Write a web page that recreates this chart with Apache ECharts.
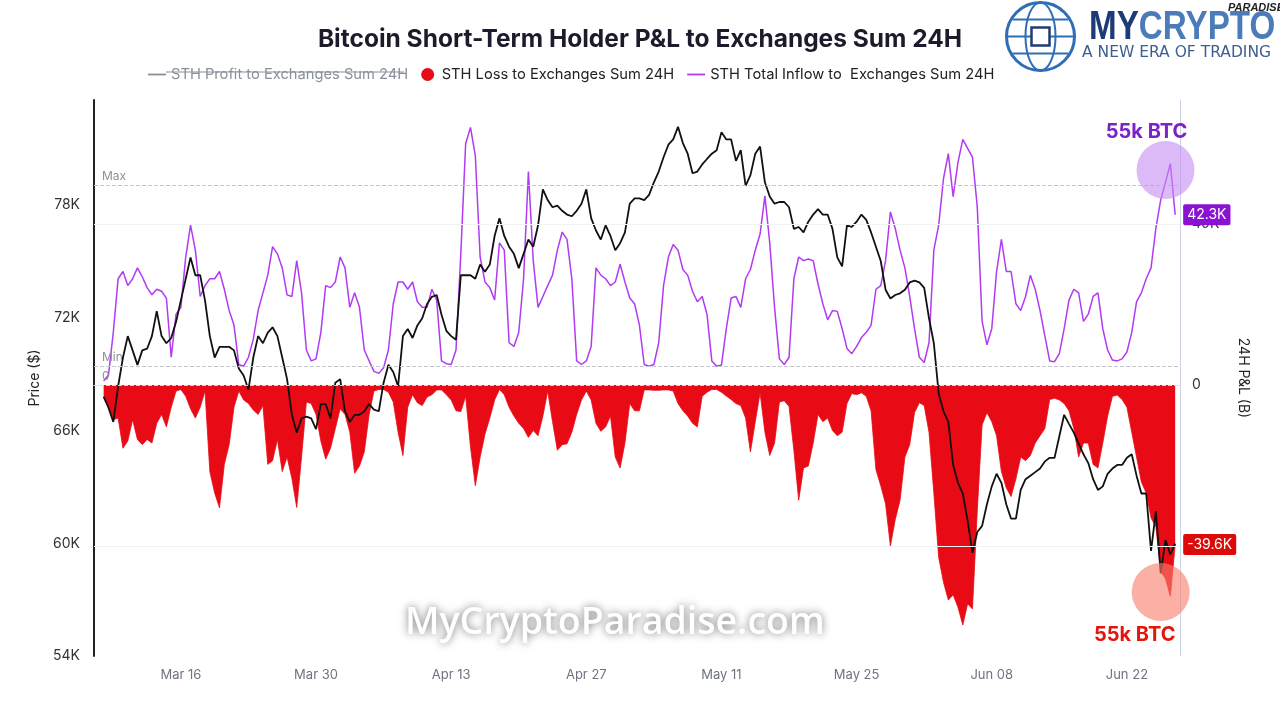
<!DOCTYPE html>
<html>
<head>
<meta charset="utf-8">
<script src="https://cdn.jsdelivr.net/npm/echarts@6/dist/echarts.min.js"></script>
<style>
  html, body { margin: 0; padding: 0; background: #fff; }
  #chart { width: 1280px; height: 720px; }
</style>
</head>
<body>
<div id="chart"></div>
<script>
// half-day samples, Mar 8 00:00 -> Jun 27 12:00 (2024)
const tickLabels = ['Mar 16', 'Mar 30', 'Apr 13', 'Apr 27', 'May 11', 'May 25', 'Jun 08', 'Jun 22'];

// BTC price, thousands of $
const price = [
  67.79, 67.22, 66.46, 68.36, 69.89, 71.03, 70.27, 69.5, 70.27, 70.36,
  71.03, 72.36, 71.03, 70.65, 70.93, 71.79, 72.93, 74.08, 75.22, 74.27,
  74.27, 72.93, 71.03, 69.89, 70.46, 70.46, 70.46, 70.27, 69.31, 68.93,
  68.17, 69.89, 71.03, 70.65, 71.22, 71.5, 71.03, 69.89, 68.74, 66.84,
  65.89, 66.65, 66.74, 66.65, 66.08, 67.41, 67.41, 66.65, 68.55, 68.74,
  67.03, 66.46, 66.84, 66.84, 67.03, 67.41,
  67.12, 67.03, 68.55, 69.5, 69.12, 68.36, 71.03, 71.41, 70.93, 71.6,
  71.98, 72.74, 73.12, 73.22, 72.17, 71.31, 71.03, 70.84, 74.27, 74.27,
  74.27, 74.08, 74.84, 74.46, 74.84, 76.36, 77.31, 76.36, 75.79, 75.41,
  74.65, 75.41, 76.17, 75.79, 76.93, 78.84, 78.27, 77.89, 77.98, 77.7,
  77.5, 77.41, 77.7, 78.08, 78.84, 77.31, 76.65, 76.17, 76.93, 76.36,
  75.6, 75.98, 76.55, 78.08, 78.36, 78.36,
  78.27, 78.55, 79.22, 79.79, 80.55, 81.22, 81.5, 82.17, 81.31, 80.74,
  79.7, 79.79, 80.17, 80.46, 80.74, 80.93, 81.89, 81.5, 81.5, 80.36,
  80.93, 79.03, 79.6, 80.74, 81.12, 79.22, 78.46, 78.08, 78.17, 78.17,
  77.89, 76.74, 76.84, 76.55, 77.12, 77.5, 77.79, 77.5, 77.5, 76.74,
  75.22, 74.74, 76.93, 76.84, 77.12, 77.5, 77.22, 76.55, 75.79, 75.03,
  73.5, 73.03, 73.22, 73.31, 73.5, 73.89,
  73.98, 73.89, 73.6, 71.98, 70.65, 67.98, 67.03, 66.46, 64.17, 63.22,
  62.65, 61.2, 59.5, 60.6, 60.93, 62.08, 63.03, 63.7, 63.22, 62.08,
  61.31, 61.31, 62.84, 63.41, 63.6, 63.79, 63.98, 64.36, 64.55, 64.55,
  65.7, 66.84, 66.36, 65.89, 65.31, 64.74, 64.27, 63.41, 62.84, 63.03,
  63.7, 63.98, 64.17, 64.17, 64.55, 64.74, 63.6, 62.65, 62.65, 59.6,
  61.7, 58.4, 60.17, 59.41, 59.98
];

// STH total inflow to exchanges, thousands of BTC
const inflow = [
  1, 2.5, 13.1, 26.4, 28.2, 24.7, 26.4, 29.1, 26.9, 24.2,
  22.4, 23.8, 23.3, 21.6, 6.9, 17.6, 19.3, 31.8, 39.7, 33.5,
  22.0, 24.7, 26.4, 26.4, 28.2, 23.8, 18.5, 14.9, 5.1, 4.7,
  6.9, 11.4, 18.5, 22.9, 27.3, 34.4, 32.6, 29.1, 22.4, 22.0,
  30.9, 22.9, 8.7, 6.0, 6.5, 13.1, 24.7, 24.2, 25.6, 31.8,
  29.1, 19.3, 22.9, 19.3, 8.7, 6.0,
  3.4, 2.9, 4.3, 8.7, 20.2, 25.6, 25.6, 23.8, 25.6, 20.7,
  19.3, 19.3, 23.8, 21.1, 6.0, 5.3, 5.1, 8.7, 32.7, 60,
  64, 57, 31.8, 25.6, 24.2, 21.1, 35.3, 33.5, 10.5, 9.6,
  13.1, 26.4, 53, 30.9, 19.3, 22.0, 24.7, 27.3, 33.5, 38.0,
  36.2, 26.4, 6.0, 5.1, 6.0, 9.6, 29.1, 27.3, 26.4, 24.7,
  25.6, 30.0, 25.6, 21.6, 20.2, 14.9,
  5.1, 4.7, 5.1, 10.5, 24.7, 31.8, 34.9, 33.5, 28.7, 27.3,
  23.3, 20.7, 22.0, 17.6, 6.0, 4.7, 5.0, 14.0, 21.6, 22.0,
  19.3, 26.4, 28.7, 33.5, 37.5, 47, 35.3, 19.3, 6.5, 5.1,
  6.9, 26.4, 31.8, 30.9, 31.3, 30.9, 25.1, 20.2, 16.2, 18.5,
  18.3, 14.0, 9.1, 7.8, 9.6, 11.8, 13.1, 14.9, 23.8, 24.7,
  30.9, 43, 38.9, 33.5, 29.1, 22.0,
  14.0, 6.9, 5.6, 10.5, 33.5, 39.7, 51.3, 57.5, 46.8, 55.3,
  61.0, 58.8, 56.6, 44.2, 15.8, 10.0, 14.0, 28.2, 36.2, 28.2,
  28.2, 20.2, 18.5, 22.0, 27.3, 23.8, 18.5, 12.2, 6.0, 5.8,
  7.8, 14.0, 21.1, 23.8, 22.9, 15.8, 17.6, 22.0, 22.9, 14.0,
  8.7, 6.2, 6.0, 6.5, 8.2, 13.1, 20.7, 22.9, 26.4, 29.1,
  38.9, 46.0, 50.4, 55, 42.3
];

// STH loss to exchanges, thousands of BTC (negative)
const loss = [
  -2.8, -5.5, -8.6, -8.2, -15.7, -13.9, -8.6, -13.5, -14.8, -13.5,
  -14.4, -9.5, -7.3, -10.4, -5.5, -1.5, -1.1, -2.8, -5.9, -8.2,
  -5.5, -1.5, -21.5, -26.8, -30.5, -19.7, -14.8, -5.5, -1.5, -3.7,
  -4.6, -6.2, -7.3, -5.1, -19.7, -18.8, -13.5, -21.5, -17.9, -23.2,
  -30.4, -17.9, -4.2, -4.6, -7.3, -13.9, -18.4, -15.7, -10.8, -5.9,
  -7.3, -11.7, -21.9, -20.1, -16.6, -7.3,
  -1.5, -1.1, -1.1, -1.8, -4.2, -11.7, -17.5, -5.5, -2.4, -4.4,
  -5.1, -3.0, -2.4, -1.2, -1.2, -2.4, -3.7, -6.4, -6.6, -2.8,
  -15.3, -25, -17.9, -12.2, -8.2, -3.7, -1.1, -2.4, -5.5, -7.7,
  -9.5, -10.8, -13.0, -11.3, -12.6, -7.7, -1.5, -9.1, -16.2, -14.8,
  -14.6, -11.7, -7.3, -3.7, -1.5, -3.7, -9.5, -11.5, -10.4, -7.7,
  -17.9, -20.6, -14.4, -4.6, -6.4, -6.4,
  -1.2, -1.2, -1.3, -1.3, -1.2, -1.2, -1.5, -4.6, -6.4, -7.7,
  -9.5, -10.4, -2.8, -1.8, -1.1, -1.1, -1.8, -2.7, -3.6, -4.6,
  -5.1, -8.2, -16.6, -9.1, -1.9, -11.7, -17.5, -14.4, -4.2, -3.9,
  -5.3, -16.2, -28.6, -20.6, -20.1, -14.4, -7.3, -9.1, -8.2, -11.3,
  -12.6, -11.7, -4.6, -2.1, -2.4, -1.9, -2.8, -6.4, -21.0, -25.0,
  -29.5, -40, -33.4, -28.6, -17.9, -14.8,
  -6.8, -4.4, -5.1, -11.7, -26.8, -42.8, -49.0, -53.4, -52.1, -55.2,
  -59.6, -54.3, -55.6, -31.2, -9.9, -6.8, -9.1, -12.6, -21.5, -25.5,
  -27.7, -23.3, -17.9, -18.8, -17.5, -14.4, -12.6, -10.8, -3.6, -3.3,
  -3.7, -4.6, -6.4, -10.8, -17.9, -14.4, -14.4, -19.7, -20.6, -14.4,
  -7.7, -2.8, -2.5, -3.6, -5.5, -11.7, -17.9, -24.1, -26.8, -33.0,
  -35.2, -46.3, -48.1, -52.5, -39.6
];

const months = ['Jan', 'Feb', 'Mar', 'Apr', 'May', 'Jun', 'Jul', 'Aug', 'Sep', 'Oct', 'Nov', 'Dec'];
const halfDay = 12 * 3600 * 1000;
const axisStart = Date.UTC(2024, 2, 7);   // axis opens one day before the data
const dataOffset = 2;
const categories = [];
for (let k = 0; k < 226; k++) {
  categories.push(new Date(axisStart + k * halfDay).toISOString().slice(0, 13));
}
function dayLabel(cat) {
  const d = new Date(cat + ':00:00Z');
  const dd = d.getUTCDate();
  return months[d.getUTCMonth()] + ' ' + (dd < 10 ? '0' + dd : dd);
}
function isTick(idx, cat) {
  return cat.endsWith('T00') && tickLabels.indexOf(dayLabel(cat)) >= 0;
}
function place(arr) {
  return arr.map((v, i) => [categories[i + dataOffset], v]);
}

const PROFIT = 'STH Profit to Exchanges Sum 24H';
const LOSS = 'STH Loss to Exchanges Sum 24H';
const INFLOW = 'STH Total Inflow to  Exchanges Sum 24H';
const lineIcon = 'path://M0,0L20,0L20,2L0,2Z';

const myChart = echarts.init(document.getElementById('chart'), null, { renderer: 'canvas' });
myChart.setOption({
  animation: false,
  backgroundColor: '#fff',
  textStyle: { fontFamily: 'Inter, "Noto Sans", sans-serif' },
  title: {
    text: 'Bitcoin Short-Term Holder P&L to Exchanges Sum 24H',
    left: 'center',
    top: 22,
    textStyle: { fontSize: 24.5, fontWeight: 'bold', color: '#1b1b2b' }
  },
  legend: {
    left: 143,
    top: 62,
    itemWidth: 18,
    itemHeight: 13,
    itemGap: 13,
    textStyle: { fontSize: 14.7, color: '#222' },
    inactiveColor: '#8a8f9c',
    selected: { [PROFIT]: false },
    data: [
      { name: PROFIT, icon: lineIcon },
      { name: LOSS, icon: 'circle' },
      { name: INFLOW, icon: lineIcon }
    ]
  },
  grid: { left: 94, right: 100, top: 100, bottom: 64 },
  xAxis: {
    type: 'category',
    data: categories,
    boundaryGap: false,
    axisLine: { lineStyle: { color: '#dcdee4' } },
    axisTick: { interval: isTick, length: 5, lineStyle: { color: '#dcdee4' } },
    axisLabel: { interval: isTick, formatter: dayLabel, color: '#6f7382', fontSize: 13, margin: 13 },
    splitLine: { show: false }
  },
  yAxis: [
    {
      type: 'value',
      position: 'left',
      min: 54,
      max: 83.6,
      interval: 6,
      axisLine: { show: true, lineStyle: { color: '#222', width: 2 } },
      axisTick: { show: false },
      splitLine: { show: false },
      axisLabel: { formatter: v => v + 'K', showMaxLabel: false, color: '#333', fontSize: 14, margin: 14 },
      name: 'Price ($)',
      nameLocation: 'middle',
      nameGap: 46,
      nameTextStyle: { color: '#222', fontSize: 14 }
    },
    {
      type: 'value',
      position: 'right',
      min: -67.3,
      max: 70.8,
      axisLine: { show: true, lineStyle: { color: '#cdd3e4' } },
      axisTick: { show: false },
      splitLine: { show: false },
      axisLabel: {
        customValues: [-40, 0, 40],
        formatter: v => (v === 0 ? '0' : v + 'K'),
        color: '#333',
        fontSize: 14,
        margin: 12
      },
      name: '24H P&L (B)',
      nameLocation: 'middle',
      nameRotate: -90,
      nameGap: 54,
      nameTextStyle: { color: '#222', fontSize: 14 }
    }
  ],
  series: [
    {
      name: PROFIT,
      type: 'line',
      yAxisIndex: 1,
      color: '#333',
      data: []
    },
    {
      name: LOSS,
      type: 'line',
      yAxisIndex: 1,
      color: '#e80a14',
      symbol: 'none',
      lineStyle: { width: 0.8, color: '#e80a14' },
      areaStyle: { color: '#e80a14', opacity: 1 },
      data: place(loss),
      endLabel: {
        show: true,
        formatter: p => p.value[1].toFixed(1) + 'K',
        color: '#fff',
        backgroundColor: '#dd0a0a',
        padding: [4, 4, 3, 4],
        borderRadius: 2,
        fontSize: 14,
        distance: 8
      },
      markPoint: {
        silent: true,
        data: [{
          coord: [categories[221], -51.4],
          symbol: 'circle',
          symbolSize: 58,
          itemStyle: { color: 'rgba(247,128,110,0.62)' },
          label: {
            show: true, position: 'bottom', distance: 4, offset: [-26, 0],
            formatter: '55k BTC', color: '#e3160b', fontSize: 20, fontWeight: 'bold'
          }
        }]
      }
    },
    {
      name: INFLOW,
      type: 'line',
      yAxisIndex: 1,
      color: '#b23af2',
      symbol: 'none',
      lineStyle: { width: 1.5, color: '#b23af2' },
      data: place(inflow),
      endLabel: {
        show: true,
        formatter: p => p.value[1].toFixed(1) + 'K',
        color: '#fff',
        backgroundColor: '#8a12d2',
        padding: [4, 4, 3, 4],
        borderRadius: 2,
        fontSize: 14,
        distance: 8
      },
      markLine: {
        silent: true,
        symbol: 'none',
        label: { position: 'insideStartTop', color: '#8d909a', fontSize: 12, distance: [8, 3] },
        data: [
          { yAxis: 49.7, label: { formatter: 'Max' }, lineStyle: { type: 'dashed', color: '#c4c7cd', width: 1 } },
          { yAxis: 4.7, label: { formatter: 'Min' }, lineStyle: { type: 'dashed', color: '#c4c7cd', width: 1 } },
          { yAxis: 0, label: { formatter: '0' }, lineStyle: { type: 'dashed', color: 'rgba(255,215,215,0.9)', width: 1 } },
          { yAxis: 40, label: { show: false }, lineStyle: { type: 'solid', color: '#f1f2f4', width: 1 } },
          { yAxis: -40, label: { show: false }, lineStyle: { type: 'solid', color: '#f1f2f4', width: 1 } }
        ]
      },
      markPoint: {
        silent: true,
        data: [{
          coord: [categories[222], 53.4],
          symbol: 'circle',
          symbolSize: 58,
          itemStyle: { color: 'rgba(196,140,244,0.6)' },
          label: {
            show: true, position: 'top', distance: -1, offset: [-19, 0],
            formatter: '55k BTC', color: '#7b22c9', fontSize: 20, fontWeight: 'bold'
          }
        }]
      }
    },
    {
      name: 'Price',
      type: 'line',
      yAxisIndex: 0,
      color: '#111',
      symbol: 'none',
      lineStyle: { width: 1.8, color: '#111' },
      data: place(price)
    }
  ],
  graphic: [
    // strike-through on the switched-off legend entry
    { type: 'line', shape: { x1: 166, y1: 72, x2: 404, y2: 72 }, style: { stroke: '#8a8f9c', lineWidth: 1.2 }, z: 100 },
    // logo
    {
      type: 'group', left: 1004, top: 0, z: 100,
      children: [
        { type: 'circle', shape: { cx: 36, cy: 36, r: 34 }, style: { fill: 'none', stroke: '#2f6db5', lineWidth: 3 } },
        { type: 'ellipse', shape: { cx: 36, cy: 36, rx: 15, ry: 34 }, style: { fill: 'none', stroke: '#2f6db5', lineWidth: 2 } },
        { type: 'line', shape: { x1: 2, y1: 36, x2: 70, y2: 36 }, style: { stroke: '#2f6db5', lineWidth: 2 } },
        { type: 'line', shape: { x1: 8, y1: 19, x2: 64, y2: 19 }, style: { stroke: '#2f6db5', lineWidth: 2 } },
        { type: 'line', shape: { x1: 8, y1: 53, x2: 64, y2: 53 }, style: { stroke: '#2f6db5', lineWidth: 2 } },
        { type: 'rect', shape: { x: 27, y: 27, width: 18, height: 18 }, style: { fill: '#fff', stroke: '#1f3b77', lineWidth: 2.5 } }
      ]
    },
    {
      type: 'text', x: 1089, y: 8, scaleX: 0.83, z: 100,
      style: {
        text: '{a|MY}{b|CRYPTO}',
        rich: {
          a: { fontSize: 40, fontWeight: 'bold', fill: '#1f3b77', fontFamily: 'Liberation Sans' },
          b: { fontSize: 40, fontWeight: 'bold', fill: '#4b7bb8', fontFamily: 'Liberation Sans' }
        }
      }
    },
    { type: 'text', left: 1228, top: 2, z: 100, style: { text: 'PARADISE', font: 'italic bold 11px "Liberation Sans"', fill: '#222' } },
    { type: 'text', left: 1082, top: 45, z: 100, style: { text: 'A NEW ERA OF TRADING', font: '15.5px "DejaVu Sans"', fill: '#3d5e92' } },
    // watermark
    {
      type: 'text', left: 405, top: 604, z: 100,
      style: {
        text: 'MyCryptoParadise.com',
        font: '600 37.5px "Open Sans"',
        fill: '#ffffff',
        textShadowColor: 'rgba(0,0,0,0.55)',
        textShadowBlur: 9
      }
    }
  ]
});
window.addEventListener('resize', function () {
  myChart.resize();
});
</script>
</body>
</html>
